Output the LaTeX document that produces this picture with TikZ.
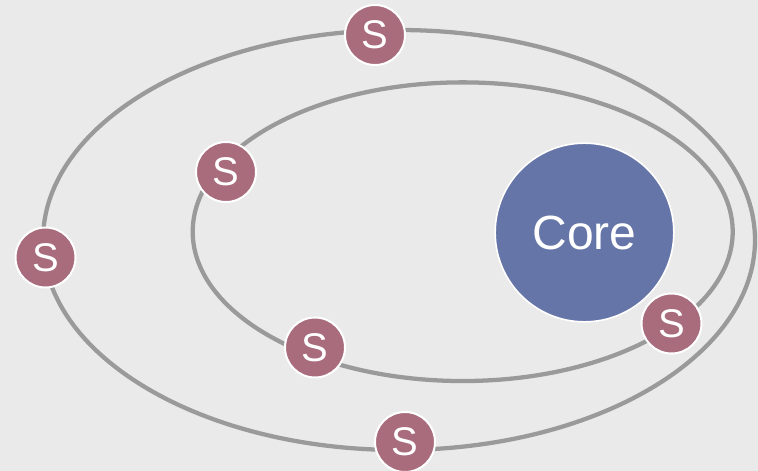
\documentclass[tikz,border=0pt]{standalone}
\usepackage{fontspec}
\setmainfont{Liberation Sans}
\definecolor{bgc}{HTML}{EAEAEA}
\definecolor{ringc}{HTML}{9A9A9A}
\definecolor{corec}{HTML}{6675A7}
\definecolor{sc}{HTML}{A86C7C}
\begin{document}
\begin{tikzpicture}[x=0.75pt,y=-0.75pt,
  ring/.style={draw=ringc,line width=3.2pt},
  sat/.style={circle,fill=sc,draw=white,line width=1.5pt,minimum size=45pt,inner sep=0pt,text=white,font=\fontsize{30}{30}\selectfont},
  corenode/.style={circle,fill=corec,draw=white,line width=1.2pt,minimum size=134pt,inner sep=0pt,text=white,font=\fontsize{36}{36}\selectfont}]
\fill[bgc] (0,0) rectangle (758,471);
\useasboundingbox (0,0) rectangle (758,471);
\draw[ring] (399,240) ellipse [x radius=267pt, y radius=157.5pt];
\draw[ring] (462.7,231.7) ellipse [x radius=202.5pt, y radius=112pt];
\node[corenode] (core) at (584.5,232.5) {Core};
\node[sat] (s1) at (375,35) {S};
\node[sat] (s2) at (226,172) {S};
\node[sat] (s3) at (45.5,257.5) {S};
\node[sat] (s4) at (315,347.5) {S};
\node[sat] (s5) at (671.5,323.5) {S};
\node[sat] (s6) at (405,442) {S};
\end{tikzpicture}
\end{document}
